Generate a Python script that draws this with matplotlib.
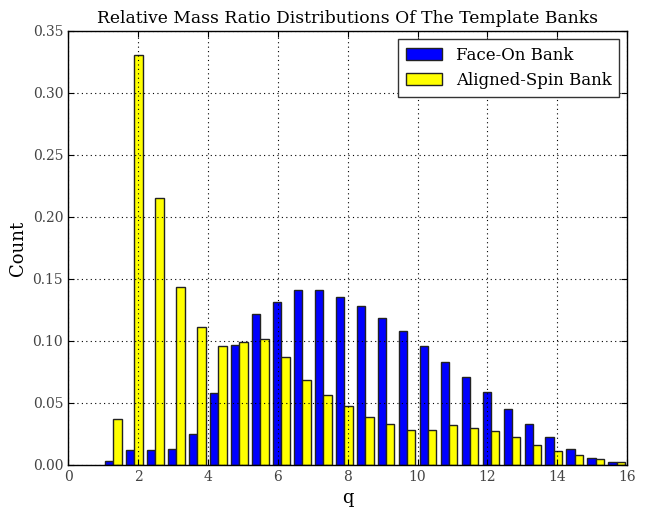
import numpy as np
import matplotlib
matplotlib.use("Agg")
import matplotlib.pyplot as plt

plt.rcParams['font.family'] = ['DejaVu Serif']

# histogram bins: 25 bins of width 0.6 from q=1 to q=16
bin_edges = np.linspace(1.0, 16.0, 26)

face_on = [0.0032, 0.0121, 0.0116, 0.0127, 0.0248, 0.0580, 0.0968, 0.1218,
           0.1313, 0.1410, 0.1407, 0.1350, 0.1280, 0.1186, 0.1080, 0.0962,
           0.0833, 0.0709, 0.0588, 0.0450, 0.0329, 0.0224, 0.0129, 0.0059,
           0.0019]
aligned_spin = [0.0369, 0.3306, 0.2150, 0.1431, 0.1110, 0.0957, 0.0992, 0.1013,
                0.0871, 0.0685, 0.0563, 0.0477, 0.0383, 0.0329, 0.0283, 0.0280,
                0.0321, 0.0294, 0.0275, 0.0226, 0.0162, 0.0110, 0.0078, 0.0049,
                0.0024]

fig = plt.figure(figsize=(6.48, 5.08), dpi=100)
ax = fig.add_axes([0.105, 0.085, 0.863, 0.854])

width = np.diff(bin_edges)
bar_w = width * 0.8 / 2
left = bin_edges[:-1] + width * 0.1
ax.bar(left, face_on, width=bar_w, align='edge', color='#0000ff',
       edgecolor='#222222', linewidth=1.0, label='Face-On Bank', zorder=2)
ax.bar(left + bar_w, aligned_spin, width=bar_w, align='edge', color='#ffff00',
       edgecolor='#222222', linewidth=1.0, label='Aligned-Spin Bank', zorder=2)

ax.set_xlim(0, 16)
ax.set_ylim(0, 0.35)
ax.set_xticks(np.arange(0, 17, 2))
ax.set_yticks(np.arange(0, 0.351, 0.05))
ax.set_yticklabels(["%.2f" % v for v in np.arange(0, 0.351, 0.05)])
ax.grid(True, color='black', linestyle=(0, (1, 3)), linewidth=0.8, zorder=3)
ax.set_axisbelow(False)
ax.tick_params(direction='in', top=True, right=True, labelsize=10,
               labelcolor='#444444', length=4)
for s in ax.spines.values():
    s.set_linewidth(1.0)

ax.set_xlabel('q', fontsize=13)
ax.set_ylabel('Count', fontsize=13)
ax.set_title('Relative Mass Ratio Distributions Of The Template Banks', fontsize=12.3)
leg = ax.legend(loc='upper right', fontsize=12, fancybox=False, framealpha=1,
                edgecolor='#333333', handlelength=2.2, borderpad=0.45)
leg.get_frame().set_linewidth(1.0)

fig.savefig('out.png', dpi=100)
